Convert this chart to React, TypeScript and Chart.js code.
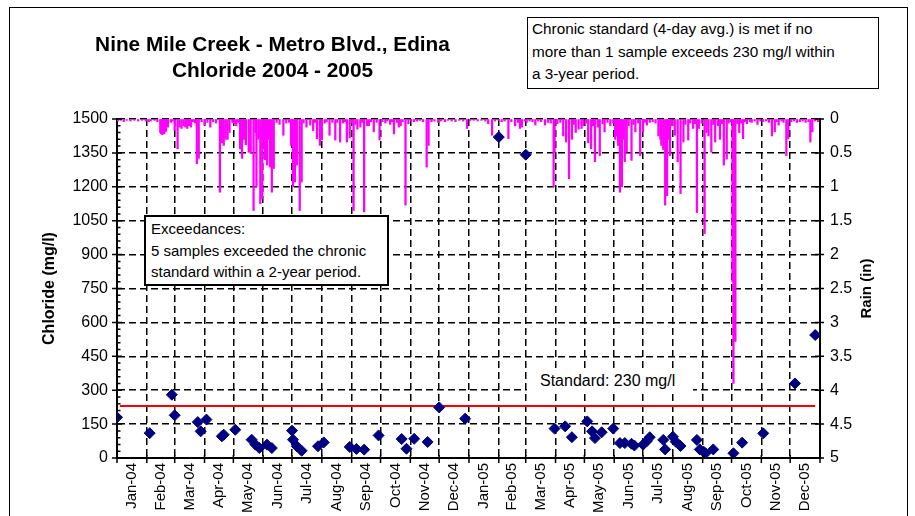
import React, { useEffect, useRef } from "react";
import { Chart, registerables } from "chart.js";

Chart.register(...registerables);

const FONT = '"Liberation Sans", Arial, Helvetica, sans-serif';

// ---- tick labels / axis ranges ----
const monthLabels = [
  "Jan-04", "Feb-04", "Mar-04", "Apr-04", "May-04", "Jun-04",
  "Jul-04", "Aug-04", "Sep-04", "Oct-04", "Nov-04", "Dec-04",
  "Jan-05", "Feb-05", "Mar-05", "Apr-05", "May-05", "Jun-05",
  "Jul-05", "Aug-05", "Sep-05", "Oct-05", "Nov-05", "Dec-05",
];
const chlorideMin = 0;
const chlorideMax = 1500;
const chlorideStep = 150;
const chlorideMinorStep = 30;
const rainMin = 0;
const rainMax = 5;
const rainStep = 0.5;

// ---- chloride samples: day index since 1 Jan 2004, value in mg/l ----
const sampleDays = [
  0, 34, 57, 60, 84, 87, 93, 109, 111, 123, 140, 144, 148, 156, 161,
  182, 183, 187, 192, 209, 215, 242, 249, 257, 272, 296, 301, 309, 323,
  335, 362, 397, 425, 455, 466, 473, 489, 494, 497, 504, 516, 523, 528,
  535, 538, 547, 551, 554, 568, 570, 578, 581, 586, 603, 606, 610, 612,
  620, 641, 650, 672, 705, 726,
];
const chlorideMgL = [
  180, 110, 280, 189, 159, 118, 170, 96, 103, 125, 81, 59, 44, 59, 44,
  121, 81, 52, 32, 52, 69, 49, 40, 37, 100, 84, 41, 85, 71,
  224, 174, 1420, 1342, 130, 140, 92, 162, 118, 88, 114, 130, 66, 66,
  63, 55, 59, 75, 92, 80, 38, 94, 72, 53, 80, 38, 28, 21,
  38, 21, 68, 109, 330, 544,
];

// ---- daily rain: [day index since 1 Jan 2004, inches] ----
const rainDaily: [number, number][] = [
  [1, 0.03], [4, 0.02], [7, 0.04], [10, 0.02], [14, 0.03], [18, 0.02], [22, 0.03], [26, 0.02],
  [30, 0.03], [33, 0.04], [35, 0.03], [39, 0.02], [42, 0.04], [45, 0.2], [46, 0.22], [47, 0.23],
  [48, 0.2], [49, 0.22], [50, 0.19], [51, 0.18], [53, 0.12], [56, 0.05], [58, 0.03], [60, 0.17],
  [63, 0.44], [65, 0.12], [67, 0.14], [69, 0.1], [71, 0.12], [73, 0.14], [75, 0.1], [77, 0.12],
  [79, 0.04], [81, 0.06], [83, 0.66], [85, 0.58], [88, 0.04], [91, 0.09], [94, 0.05], [97, 0.12],
  [100, 0.04], [103, 0.06], [107, 1.08], [109, 0.35], [111, 0.39], [113, 0.3], [115, 0.3], [117, 0.2],
  [120, 0.05], [122, 0.07], [124, 0.1], [126, 0.05], [128, 0.44], [130, 0.58], [132, 0.3], [134, 0.38],
  [137, 0.49], [139, 0.5], [142, 1.35], [144, 0.2], [145, 1.0], [147, 0.3], [149, 1.25], [151, 1.18],
  [152, 0.44], [154, 0.6], [156, 0.68], [157, 0.3], [159, 0.71], [161, 1.08], [163, 0.73], [166, 0.05],
  [169, 0.08], [173, 0.24], [176, 0.06], [179, 0.05], [181, 0.39], [183, 1.0], [185, 0.93], [187, 0.68],
  [190, 1.35], [192, 0.93], [194, 0.06], [197, 0.12], [201, 0.09], [204, 0.17], [206, 0.05], [208, 0.29],
  [211, 0.39], [213, 0.31], [216, 0.06], [218, 0.04], [221, 0.24], [224, 0.05], [227, 0.31], [229, 0.05],
  [232, 0.34], [235, 0.06], [237, 0.04], [239, 0.34], [242, 0.28], [244, 0.06], [246, 1.35], [248, 0.08],
  [250, 0.15], [253, 0.12], [255, 0.05], [257, 1.37], [260, 0.1], [262, 0.1], [264, 0.04], [267, 0.19],
  [270, 0.05], [273, 0.31], [276, 0.04], [279, 0.06], [281, 0.03], [284, 0.08], [286, 0.04], [288, 0.22],
  [291, 0.05], [293, 0.12], [295, 0.1], [297, 0.04], [300, 1.27], [303, 0.07], [306, 0.03], [309, 0.04],
  [312, 0.03], [315, 0.02], [318, 0.04], [322, 0.71], [324, 0.39], [327, 0.04], [330, 0.03], [334, 0.05],
  [337, 0.03], [341, 0.04], [344, 0.02], [348, 0.03], [352, 0.04], [356, 0.02], [360, 0.03], [364, 0.14],
  [367, 0.03], [371, 0.02], [375, 0.03], [379, 0.02], [383, 0.03], [386, 0.07], [390, 0.24], [393, 0.03],
  [397, 0.02], [400, 0.04], [403, 0.03], [407, 0.29], [410, 0.04], [414, 0.1], [417, 0.05], [419, 0.14],
  [421, 0.12], [424, 0.03], [426, 0.05], [429, 0.03], [432, 0.04], [435, 0.09], [438, 0.03], [441, 0.04],
  [445, 0.09], [448, 0.05], [451, 0.06], [454, 1.0], [455, 0.49], [458, 0.07], [461, 0.05], [464, 0.25],
  [467, 0.34], [470, 0.88], [473, 0.3], [475, 0.08], [477, 0.2], [480, 0.15], [483, 0.14], [485, 0.1],
  [488, 0.06], [490, 0.35], [493, 0.44], [495, 0.1], [497, 0.63], [500, 0.12], [502, 0.54], [505, 0.07],
  [507, 0.19], [510, 0.05], [513, 0.1], [516, 0.06], [518, 0.3], [520, 0.25], [521, 0.39], [523, 1.08],
  [524, 0.45], [525, 1.0], [527, 0.3], [528, 0.63], [530, 0.49], [532, 0.1], [535, 0.61], [537, 0.08],
  [539, 0.19], [542, 0.06], [544, 0.54], [547, 0.19], [549, 0.05], [551, 0.09], [554, 0.05], [557, 0.04],
  [560, 0.06], [563, 0.25], [565, 0.3], [566, 0.39], [568, 0.45], [570, 1.27], [572, 1.13], [573, 0.3],
  [575, 0.54], [577, 0.1], [580, 0.24], [583, 0.63], [586, 1.1], [589, 0.34], [591, 0.08], [594, 0.31],
  [596, 0.06], [599, 0.14], [601, 0.07], [603, 1.38], [605, 0.14], [608, 0.06], [611, 1.69], [613, 0.2],
  [615, 0.25], [618, 0.49], [620, 0.08], [622, 0.34], [625, 0.1], [627, 0.3], [629, 0.07], [631, 0.68],
  [634, 0.59], [636, 0.06], [638, 0.04], [640, 2.4], [641, 3.9], [642, 3.28], [643, 3.28], [645, 0.07],
  [647, 0.2], [649, 0.06], [651, 0.29], [653, 0.04], [655, 0.07], [658, 0.04], [660, 0.05], [663, 0.03],
  [666, 0.08], [669, 0.03], [672, 0.04], [675, 0.03], [678, 0.05], [681, 0.25], [684, 0.19], [686, 0.04],
  [688, 0.09], [691, 0.03], [693, 0.05], [696, 0.54], [698, 0.29], [701, 0.04], [704, 0.03], [707, 0.05],
  [710, 0.04], [713, 0.03], [716, 0.05], [719, 0.04], [721, 0.34], [723, 0.19], [726, 0.03], [729, 0.04],
];

const standardMgL = 230;
const standardSpanDays = [3, 726];

// ---- calendar scaffolding for the date axis ----
const DAY0 = Date.UTC(2004, 0, 1);
const monthStarts = Array.from({ length: monthLabels.length + 1 }, (_, k) =>
  Math.round((Date.UTC(2004, k, 1) - DAY0) / 86400000)
);
const monthMids = monthStarts.slice(0, -1).map((d, i) => (d + monthStarts[i + 1]) / 2);
const axisEndDay = monthStarts[monthStarts.length - 1];

const decorPlugin = {
  id: "decor",
  afterDraw(chart: any) {
    const { ctx, chartArea, scales } = chart;
    const y = scales.y;
    const yr = scales.yr;
    const x = scales.x;
    ctx.save();
    ctx.strokeStyle = "#000";
    ctx.lineWidth = 1.5;
    ctx.setLineDash([]);
    ctx.beginPath();
    for (let v = chlorideMin; v <= chlorideMax + 0.001; v += chlorideMinorStep) {
      const py = y.getPixelForValue(v);
      const major = Math.abs(v % chlorideStep) < 0.001;
      ctx.moveTo(chartArea.left - (major ? 5 : 0), py);
      ctx.lineTo(chartArea.left + (major ? 5 : 3.5), py);
    }
    for (let v = rainMin; v <= rainMax + 0.001; v += rainStep) {
      const py = yr.getPixelForValue(v);
      ctx.moveTo(chartArea.right - 5, py);
      ctx.lineTo(chartArea.right + 4, py);
    }
    for (const d of monthStarts) {
      const px = x.getPixelForValue(d);
      ctx.moveTo(px, chartArea.bottom - 3);
      ctx.lineTo(px, chartArea.bottom + 5);
    }
    ctx.stroke();

    // secondary axis title
    ctx.fillStyle = "#000";
    ctx.font = `bold 15px ${FONT}`;
    ctx.textAlign = "center";
    ctx.textBaseline = "middle";
    ctx.translate(chartArea.right + 47, (chartArea.top + chartArea.bottom) / 2);
    ctx.rotate(-Math.PI / 2);
    ctx.fillText("Rain (in)", 0, 0);
    ctx.restore();
  },
};

export default function App() {
  const canvasRef = useRef<HTMLCanvasElement | null>(null);

  useEffect(() => {
    if (!canvasRef.current) return;
    Chart.defaults.font.family = FONT;
    Chart.defaults.color = "#000";

    const chart = new Chart(canvasRef.current, {
      type: "scatter",
      data: {
        datasets: [
          {
            type: "bar",
            label: "Rain",
            data: rainDaily.map(([d, r]) => ({ x: d, y: r })),
            xAxisID: "x",
            yAxisID: "yr",
            backgroundColor: "#FF00FF",
            borderWidth: 0,
            barThickness: 1.6,
            order: 3,
          } as any,
          {
            type: "line",
            label: "Standard",
            data: standardSpanDays.map((d) => ({ x: d, y: standardMgL })),
            xAxisID: "x",
            yAxisID: "y",
            borderColor: "#FF0000",
            borderWidth: 2,
            pointRadius: 0,
            fill: false,
            order: 2,
          },
          {
            type: "scatter",
            label: "Chloride",
            data: sampleDays.map((d, i) => ({ x: d, y: chlorideMgL[i] })),
            xAxisID: "x",
            yAxisID: "y",
            pointStyle: "rectRot",
            pointRadius: 5.5,
            backgroundColor: "#000080",
            borderColor: "#000080",
            borderWidth: 1,
            order: 1,
          },
        ],
      },
      options: {
        animation: false,
        responsive: true,
        maintainAspectRatio: false,
        events: [],
        layout: { padding: { top: 119, left: 0, right: 0, bottom: 0 } },
        plugins: {
          legend: { display: false },
          tooltip: { enabled: false },
          title: { display: false },
        },
        scales: {
          x: {
            type: "linear",
            position: "bottom",
            weight: 0,
            min: 0,
            max: axisEndDay,
            offset: false,
            afterBuildTicks: (s: any) => {
              s.ticks = monthStarts.map((v) => ({ value: v }));
            },
            afterFit: (s: any) => {
              s.height = 0;
            },
            ticks: { display: false, autoSkip: false },
            grid: { color: "#000", lineWidth: 1.5, drawTicks: false, offset: false },
            border: { display: true, color: "#000", width: 2, dash: [7, 4] },
          },
          xl: {
            type: "linear",
            position: "bottom",
            weight: 1,
            min: 0,
            max: axisEndDay,
            offset: false,
            afterBuildTicks: (s: any) => {
              s.ticks = monthMids.map((v) => ({ value: v }));
            },
            afterFit: (s: any) => {
              s.height = 58;
            },
            ticks: {
              autoSkip: false,
              minRotation: 90,
              maxRotation: 90,
              padding: 5,
              font: { size: 15 },
              color: "#000",
              callback: (_v: any, i: number) => monthLabels[i],
            },
            grid: { display: false, drawTicks: false, tickLength: 0, offset: false },
            border: { display: false },
          },
          y: {
            type: "linear",
            position: "left",
            min: chlorideMin,
            max: chlorideMax,
            afterFit: (s: any) => {
              s.width = 117;
            },
            ticks: {
              stepSize: chlorideStep,
              padding: 9,
              font: { size: 16 },
              color: "#000",
              callback: (v: any) => String(v),
            },
            grid: { color: "#000", lineWidth: 1.5, drawTicks: false },
            border: { display: true, color: "#000", width: 2, dash: [7, 4] },
            title: {
              display: true,
              text: "Chloride (mg/l)",
              font: { size: 16, weight: "bold" },
              color: "#000",
              padding: { top: 40, bottom: 0 },
            },
          },
          yr: {
            type: "linear",
            position: "right",
            min: rainMin,
            max: rainMax,
            reverse: true,
            afterFit: (s: any) => {
              s.width = 95;
            },
            ticks: {
              stepSize: rainStep,
              padding: 10,
              font: { size: 16 },
              color: "#000",
              callback: (v: any) => String(Math.round(Number(v) * 10) / 10),
            },
            grid: { drawOnChartArea: false, drawTicks: false },
            border: { display: true, color: "#000", width: 2 },
          },
        },
      } as any,
      plugins: [decorPlugin],
    });
    return () => chart.destroy();
  }, []);

  const textStyle: React.CSSProperties = {
    position: "absolute",
    fontFamily: FONT,
    color: "#000",
    whiteSpace: "nowrap",
  };

  return (
    <div
      style={{
        position: "fixed",
        left: 0,
        top: 0,
        width: 915,
        height: 516,
        overflow: "hidden",
        background: "#fff",
      }}
    >
      <div
        style={{
          position: "absolute",
          left: 9,
          top: 7,
          width: 899,
          height: 600,
          border: "1px solid #000",
          boxSizing: "border-box",
        }}
      />
      <div style={{ position: "absolute", left: 0, top: 0, width: 915, height: 516 }}>
        <canvas ref={canvasRef} />
      </div>
      <div
        style={{
          ...textStyle,
          left: 0,
          top: 31,
          width: 545,
          textAlign: "center",
          fontWeight: "bold",
          fontSize: 20.8,
          lineHeight: "26px",
        }}
      >
        Nine Mile Creek - Metro Blvd., Edina
        <br />
        Chloride 2004 - 2005
      </div>
      <div
        style={{
          ...textStyle,
          left: 527,
          top: 17,
          width: 352,
          height: 72,
          border: "1.5px solid #000",
          boxSizing: "border-box",
          paddingLeft: 4,
          paddingTop: 0,
          fontSize: 15.3,
          lineHeight: "22.5px",
          background: "#fff",
        }}
      >
        Chronic standard (4-day avg.) is met if no
        <br />
        more than 1 sample exceeds 230 mg/l within
        <br />
        a 3-year period.
      </div>
      <div
        style={{
          ...textStyle,
          left: 144,
          top: 215,
          width: 245,
          height: 71,
          border: "2px solid #000",
          boxSizing: "border-box",
          paddingLeft: 5,
          paddingTop: 1,
          fontSize: 15,
          lineHeight: "21.5px",
          background: "#fff",
        }}
      >
        Exceedances:
        <br />
        5 samples exceeded the chronic
        <br />
        standard within a 2-year period.
      </div>
      <div
        style={{
          ...textStyle,
          left: 527,
          top: 369,
          width: 166,
          height: 24,
          paddingLeft: 13,
          boxSizing: "border-box",
          background: "#fff",
          fontSize: 16,
          lineHeight: "24px",
        }}
      >
        Standard: 230 mg/l
      </div>
    </div>
  );
}
